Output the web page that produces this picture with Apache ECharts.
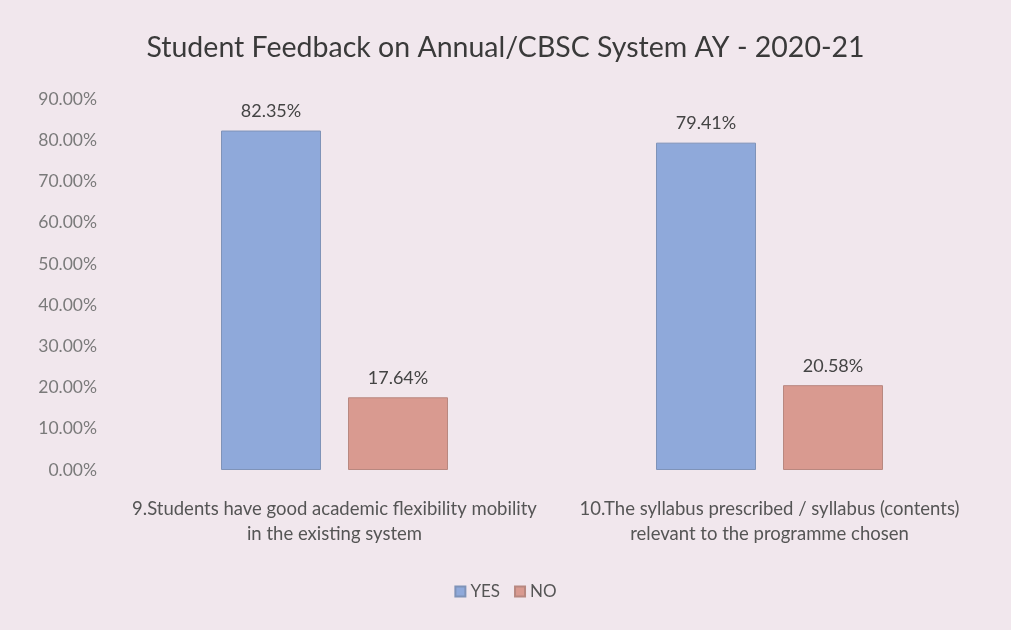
<!DOCTYPE html>
<html>
<head>
<meta charset="utf-8">
<script src="https://cdn.jsdelivr.net/npm/echarts@6/dist/echarts.min.js"></script>
<style>
  html, body { margin: 0; padding: 0; background: #f1e7ed; }
  #chart { width: 1011px; height: 630px; }
</style>
</head>
<body>
<div id="chart"></div>
<script>
const categories = [
  '9.Students have good academic flexibility mobility\nin the existing system',
  '10.The syllabus prescribed / syllabus (contents)\nrelevant to the programme chosen'
]
const yesValues = [82.35, 79.41]
const noValues = [17.64, 20.58]
const seriesNames = ['YES', 'NO']

const chart = echarts.init(document.getElementById('chart'))

const labelStyle = {
  show: true,
  position: 'top',
  distance: 10,
  color: '#444',
  fontSize: 18,
  fontFamily: 'Lato',
  formatter: p => p.value.toFixed(2) + '%',
}

chart.setOption({
  backgroundColor: '#f1e7ed',
  title: {
    text: 'Student Feedback on Annual/CBSC System AY - 2020-21',
    left: 'center',
    top: 28,
    textStyle: {
      color: '#3a3a3a',
      fontSize: 28.5,
      fontWeight: 'normal',
      fontFamily: 'Lato',
    },
  },
  legend: {
    bottom: 25,
    left: 'center',
    itemWidth: 10,
    itemHeight: 10,
    itemGap: 14,
    icon: 'rect',
    textStyle: { color: '#555', fontSize: 17, fontFamily: 'Lato' },
    data: seriesNames,
  },
  grid: {
    left: 117,
    right: 24,
    top: 99,
    bottom: 160,
  },
  xAxis: {
    type: 'category',
    data: categories,
    axisLine: { show: false },
    axisTick: { show: false },
    axisLabel: {
      color: '#555',
      fontSize: 18.5,
      fontFamily: 'Lato',
      lineHeight: 25,
      margin: 27,
      interval: 0,
    },
  },
  yAxis: {
    type: 'value',
    min: 0,
    max: 90,
    interval: 10,
    axisLine: { show: false },
    axisTick: { show: false },
    splitLine: { show: false },
    axisLabel: {
      color: '#7a7a7a',
      fontSize: 17.5,
      fontFamily: 'Lato',
      margin: 20,
      formatter: v => v.toFixed(2) + '%',
    },
  },
  series: [
    {
      name: seriesNames[0],
      type: 'bar',
      data: yesValues,
      barWidth: 100,
      barGap: '27%',
      itemStyle: { color: '#8fa9da', borderColor: '#7f93b8', borderWidth: 1 },
      label: labelStyle,
    },
    {
      name: seriesNames[1],
      type: 'bar',
      data: noValues,
      barWidth: 100,
      itemStyle: { color: '#d99a90', borderColor: '#b88880', borderWidth: 1 },
      label: labelStyle,
    },
  ],
})
</script>
</body>
</html>
